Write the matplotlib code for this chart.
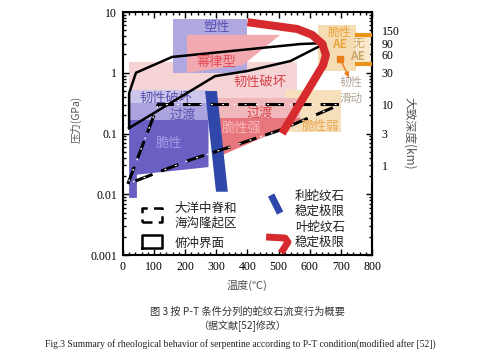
import matplotlib
matplotlib.use("Agg")
import matplotlib.pyplot as plt
from matplotlib.ticker import MultipleLocator, LogLocator, NullFormatter, FixedLocator, FixedFormatter

CJK = ['Noto Sans CJK SC', 'DejaVu Sans']
SERIF = ['Liberation Serif', 'DejaVu Serif']

# temperature (C) and pressure (GPa)
plastic_T = [160, 400]; plastic_P = [1.0, 7.7]
powerlaw_T = [206, 505, 386, 206]; powerlaw_P = [4.2, 4.2, 1.34, 1.0]
ductile_T = [20, 560]; ductile_P = [0.32, 1.5]
weak_T = [525, 700]; weak_P = [0.105, 0.52]
trans_pink_T = [300, 570]; trans_pink_P = [0.18, 0.38]
strong_T = [300, 570, 570, 300]; strong_P = [0.18, 0.18, 0.16, 0.04]
pur_ductile_T = [20, 272]; pur_ductile_P = [0.32, 0.52]
pur_trans_T = [20, 275]; pur_trans_P = [0.167, 0.32]
pur_brittle_T = [20, 275, 275, 45, 45, 20]
pur_brittle_P = [0.167, 0.167, 0.028, 0.021, 0.0087, 0.0087]
ae_T = [625, 750]; ae_P = [1.05, 6.1]
noae_T = [752, 795]; noae_P = [1.3, 4.5]
ae_bar_T = [745, 800]; ae_bar_P = [4.18, 1.39]

# lizardite stability limit (blue) and antigorite stability limit (red)
liz_T = [264, 302, 337, 299]; liz_P = [0.5, 0.5, 0.011, 0.011]
atg_T = [400, 560, 608, 640, 652, 643, 585, 511]
atg_P = [6.8, 5.25, 4.2, 3.0, 1.96, 1.34, 0.43, 0.10]

# subduction interface (solid) and ridge / outer rise (dashed)
sub_T = [20, 20, 42, 158, 570, 652, 538, 400, 296, 20]
sub_P = [0.123, 0.46, 1.0, 1.82, 2.97, 3.09, 1.56, 1.07, 0.88, 0.123]
mor_T = [16, 113, 698, 505, 344, 215, 16]
mor_P = [0.0148, 0.3, 0.3, 0.114, 0.06, 0.0366, 0.0148]

# right axis: depth labels placed at these pressures
depth_P = [0.03, 0.1, 0.3, 1, 2, 3, 5]
depth_lbl = ['1', '3', '10', '30', '60', '90', '150']


def box(ax, T, P, color, z=1):
    ax.fill([T[0], T[1], T[1], T[0]], [P[0], P[0], P[1], P[1]], color=color, lw=0, zorder=z)


fig = plt.figure(figsize=(4.8, 3.53), dpi=100)
ax = fig.add_axes([0.256, 0.2776, 0.519, 0.6884])
ax.set_yscale('log')
ax.set_xlim(0, 800)
ax.set_ylim(0.001, 10)

box(ax, ductile_T, ductile_P, '#f6d3d4', 1)
box(ax, weak_T, weak_P, '#f6dfbb', 1)
box(ax, plastic_T, plastic_P, '#afa9df', 2)
ax.fill(powerlaw_T, powerlaw_P, color='#f2a9af', lw=0, zorder=2)
box(ax, trans_pink_T, trans_pink_P, '#f0b8ba', 2)
ax.fill(strong_T, strong_P, color='#e8777d', lw=0, zorder=3)
box(ax, pur_ductile_T, pur_ductile_P, '#cbc6ec', 3)
box(ax, pur_trans_T, pur_trans_P, '#aaa3e0', 3)
ax.fill(pur_brittle_T, pur_brittle_P, color='#6a5fc3', lw=0, zorder=3)
box(ax, noae_T, noae_P, '#f9e8cc', 2)
box(ax, ae_T, ae_P, '#f5dcb3', 2)

for p in ae_bar_P:
    ax.plot(ae_bar_T, [p, p], color='#e8941a', lw=3, solid_capstyle='butt', zorder=4)

ax.fill(liz_T, liz_P, color='#2e47a8', lw=0, zorder=5)

ax.plot(sub_T, sub_P, color='black', lw=1.8, zorder=6, solid_joinstyle='miter')
ax.plot(mor_T, mor_P, color='black', lw=2.2, zorder=6, linestyle=(0, (6, 3)))
ax.plot(mor_T, mor_P, color='white', lw=0.9, zorder=6.1, linestyle=(6.75, (1.5, 7.5)))

ax.plot(atg_T, atg_P, color='#d62a2f', lw=5.8, zorder=7, solid_capstyle='butt', solid_joinstyle='round')

# orange marker + arrow
ax.plot([697], [1.68], 's', color='#e87d1a', ms=4, zorder=8)
ax.annotate('', xy=(730, 0.76), xytext=(700, 1.6),
            arrowprops=dict(arrowstyle='-|>', color='#e87d1a', lw=1.0, mutation_scale=7), zorder=8)

# labels in the field
lab = dict(family=CJK, ha='center', va='center', zorder=9)
ax.text(302, 5.66, '塑性', color='#5b51b5', fontsize=9.5, **lab)
ax.text(299, 1.5, '幂律型', color='#e24a57', fontsize=9.5, **lab)
ax.text(440, 0.70, '韧性破坏', color='#d8424c', fontsize=9.5, **lab)
ax.text(138, 0.384, '韧性破坏', color='#5c52ad', fontsize=9.5, zorder=5.5,
        family=CJK, ha='center', va='center')
ax.text(193, 0.20, '过渡', color='#5c52ad', fontsize=9.5, **lab)
ax.text(148, 0.070, '脆性', color='#a59ee6', fontsize=9.5, **lab)
ax.text(440, 0.217, '过渡', color='#d8424c', fontsize=9.5, **lab)
ax.text(382, 0.123, '脆性强', color='#f7b8bb', fontsize=9.5, **lab)
ax.text(636, 0.133, '脆性弱', color='#e9a850', fontsize=9, **lab)
ax.text(697, 4.69, '脆性', color='#eba43a', fontsize=8.5, **lab)
ax.text(697, 2.87, 'AE', color='#eba43a', fontsize=8.5, fontweight='bold', **lab)
ax.text(755, 3.09, '无', color='#c9a868', fontsize=8.5, **lab)
ax.text(755, 1.82, 'AE', color='#c9a868', fontsize=8.5, fontweight='bold', **lab)
ax.text(733, 0.68, '韧性', color='#b3a799', fontsize=8.3, **lab)
ax.text(733, 0.384, '滑动', color='#b3a799', fontsize=8.3, **lab)

# legend drawn inside the axes
ax.plot([61, 125, 125, 61, 61], [0.0035, 0.0035, 0.0059, 0.0059, 0.0035],
        color='black', lw=1.8, linestyle=(0, (4, 2.5)))
ax.plot([61, 125, 125, 61, 61], [0.0013, 0.0013, 0.0021, 0.0021, 0.0013],
        color='black', lw=1.8)
ax.plot([476, 505], [0.0097, 0.0049], color='#2e47a8', lw=5, solid_capstyle='butt')
ax.plot([460, 521, 530, 508], [0.00198, 0.0019, 0.00163, 0.00108], color='#d62a2f',
        lw=5, solid_capstyle='butt', solid_joinstyle='round')
leg = dict(family=CJK, ha='left', va='center', fontsize=9, color='#222222', linespacing=1.15)
ax.text(167, 0.0044, '大洋中脊和\n海沟隆起区', **leg)
ax.text(167, 0.00158, '俯冲界面', **leg)
ax.text(553, 0.0069, '利蛇纹石\n稳定极限', **leg)
ax.text(553, 0.00213, '叶蛇纹石\n稳定极限', **leg)

# axes styling
for s in ax.spines.values():
    s.set_linewidth(1.5)
ax.xaxis.set_major_locator(MultipleLocator(100))
ax.xaxis.set_minor_locator(MultipleLocator(20))
ax.yaxis.set_minor_locator(LogLocator(base=10, subs=range(2, 10)))
ax.yaxis.set_minor_formatter(NullFormatter())
ax.set_yticks([0.001, 0.01, 0.1, 1, 10])
ax.set_yticklabels(['0.001', '0.01', '0.1', '1', '10'])
ax.tick_params(which='both', direction='in', top=True, right=True, width=1, labelsize=8.5, pad=4)
ax.tick_params(which='major', length=4)
ax.tick_params(which='minor', length=2.5)
for t in ax.get_xticklabels() + ax.get_yticklabels():
    t.set_family(SERIF)

sec = ax.secondary_yaxis('right')
sec.yaxis.set_major_locator(FixedLocator(depth_P))
sec.yaxis.set_major_formatter(FixedFormatter(depth_lbl))
sec.yaxis.set_minor_locator(FixedLocator([]))
sec.tick_params(length=0, pad=7, labelsize=8.5)
sec.spines['right'].set_linewidth(1.5)
for t in sec.get_yticklabels():
    t.set_family(SERIF)
sec.set_ylabel('大致深度(km)', family=CJK, fontsize=8.5, color='#555555', rotation=270, labelpad=12)

ax.set_xlabel('温度(℃)', family=CJK, fontsize=8, color='#555555', labelpad=5)
ax.set_ylabel('压力(GPa)', family=CJK, fontsize=7.5, color='#555555')
ax.yaxis.set_label_coords(-0.165, 0.56)

fig.text(0.515, 0.116, '图 3 按 P-T 条件分列的蛇纹石流变行为概要', family=CJK, fontsize=7.4,
         color='#333333', ha='center', va='center')
fig.text(0.505, 0.077, '（据文献[52]修改）', family=CJK, fontsize=7.2, color='#333333',
         ha='center', va='center')
fig.text(0.5, 0.026, 'Fig.3 Summary of rheological behavior of serpentine according to P-T condition(modified after [52])',
         family=SERIF, fontsize=6.9, color='#222222', ha='center', va='center')

fig.savefig('out.png', dpi=100)
